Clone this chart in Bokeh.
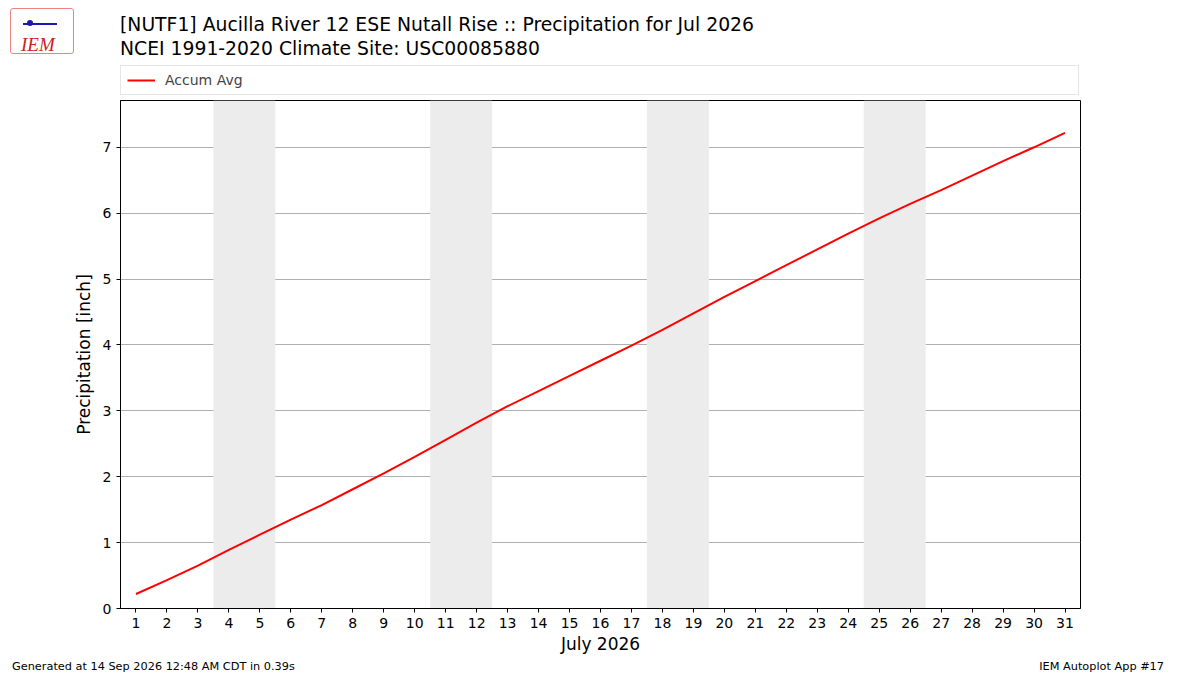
from bokeh.embed import file_html
from bokeh.resources import INLINE
from bokeh.layouts import column, row
from bokeh.plotting import figure
from bokeh.models import (BoxAnnotation, Div, FixedTicker, Legend, LegendItem,
                          Range1d)

FONT = "DejaVu Sans"

# July 2026 accumulated average precipitation (inch)
days = list(range(1, 32))
accum_avg = [0.22, 0.43, 0.65, 0.89, 1.12, 1.35, 1.57, 1.81, 2.05, 2.30,
             2.56, 2.82, 3.07, 3.30, 3.53, 3.76, 3.99, 4.23, 4.48, 4.73,
             4.97, 5.21, 5.45, 5.69, 5.92, 6.14, 6.35, 6.57, 6.79, 7.00, 7.22]
# weekends (Sat, Sun) shaded
weekends = [(4, 5), (11, 12), (18, 19), (25, 26)]
y_ticks = [0, 1, 2, 3, 4, 5, 6, 7]

title1 = "[NUTF1] Aucilla River 12 ESE Nutall Rise :: Precipitation for Jul 2026"
title2 = "NCEI 1991-2020 Climate Site: USC00085880"
footer_left = "Generated at 14 Sep 2026 12:48 AM CDT in 0.39s"
footer_right = "IEM Autoplot App #17"

# ---- main plot
p = figure(width=1200, height=562,
           min_border_left=120, min_border_right=120, min_border_top=4,
           min_border_bottom=50, x_range=Range1d(0.5, 31.5),
           y_range=Range1d(0, 7.71), output_backend="svg",
           toolbar_location=None, background_fill_color="white",
           border_fill_color="white")

for sat, sun in weekends:
    p.add_layout(BoxAnnotation(left=sat - 0.5, right=sun + 0.5,
                               fill_color="#ececec", fill_alpha=1.0,
                               line_alpha=0, level="underlay"))

p.line(days, accum_avg, line_color="red", line_width=2)

p.xaxis.ticker = FixedTicker(ticks=days)
p.yaxis.ticker = FixedTicker(ticks=y_ticks)
p.xaxis.axis_label = "July 2026"
p.yaxis.axis_label = "Precipitation [inch]"
for ax in (p.xaxis, p.yaxis):
    ax.axis_label_text_font = FONT
    ax.axis_label_text_font_size = "17px"
    ax.axis_label_text_font_style = "normal"
    ax.axis_label_text_color = "black"
    ax.major_label_text_font = FONT
    ax.major_label_text_font_size = "14px"
    ax.major_label_text_color = "black"
    ax.major_tick_in = 0
    ax.major_tick_out = 4
    ax.minor_tick_in = 0
    ax.minor_tick_out = 0
    ax.axis_line_color = "black"
    ax.major_tick_line_color = "black"
    ax.major_label_standoff = 5
p.xaxis.axis_label_standoff = 3
p.yaxis.axis_label_standoff = 6

p.xgrid.visible = False
p.ygrid.ticker = FixedTicker(ticks=y_ticks)
p.ygrid.grid_line_color = "#b0b0b0"
p.ygrid.grid_line_width = 1
p.outline_line_color = "black"
p.outline_line_alpha = 1.0

# ---- header: logo and title lines
logo = Div(width=120, height=64, margin=0, text=(
    '<div style="position:relative;margin:8px 0 0 10px;width:64px;'
    'height:46px;border:1px solid #f08080;border-radius:3px">'
    '<div style="position:absolute;left:12px;top:14px;width:34px;'
    'height:2px;background:#1a1ab0"></div>'
    '<div style="position:absolute;left:16px;top:11px;width:6px;'
    'height:6px;border-radius:3px;background:#1a1ab0"></div>'
    '<span style="position:absolute;left:10px;top:22px;'
    'font-family:\'Liberation Serif\';font-style:italic;font-size:19px;'
    'color:#cc2222">IEM</span></div>'))
titles = Div(width=1080, height=64, margin=0, text=(
    f'<div style="font-family:\'{FONT}\';font-size:18.8px;line-height:24px;'
    f'padding-top:13px;color:black;white-space:nowrap">'
    f'{title1}<br>{title2}</div>'))

# ---- legend strip, aligned with the plot frame
strip = figure(width=1200, height=32, x_range=Range1d(0, 1),
               y_range=Range1d(0, 1), x_axis_location=None,
               y_axis_location=None, min_border_left=120,
               min_border_right=120, min_border_top=0, min_border_bottom=0,
               output_backend="svg", toolbar_location=None,
               outline_line_color=None, background_fill_color="white",
               border_fill_color="white")
strip.xgrid.visible = False
strip.ygrid.visible = False
# key renderer lies outside the strip's ranges, only its legend key shows
key = strip.line([5, 6], [5, 5], line_color="red", line_width=2)
strip.add_layout(Legend(items=[LegendItem(label="Accum Avg", renderers=[key])],
                        location=(0, 1), orientation="horizontal",
                        padding=6, spacing=0, margin=0, glyph_width=28,
                        glyph_height=14, label_standoff=10, label_width=907,
                        label_text_font=FONT, label_text_font_size="14px",
                        border_line_color="#cccccc", border_line_width=1,
                        background_fill_color="white",
                        background_fill_alpha=1.0))

# ---- footer
footer = Div(width=1200, height=17, margin=0, text=(
    f'<div style="display:flex;justify-content:space-between;'
    f'width:1176px;padding:0 12px;font-family:\'{FONT}\';font-size:11.3px;'
    f'line-height:17px;color:black;white-space:nowrap">'
    f'<span>{footer_left}</span><span>{footer_right}</span></div>'))

layout = column(row(logo, titles, spacing=0), strip, p, footer, spacing=0)
open("out.html", "w").write(file_html(layout, INLINE))
